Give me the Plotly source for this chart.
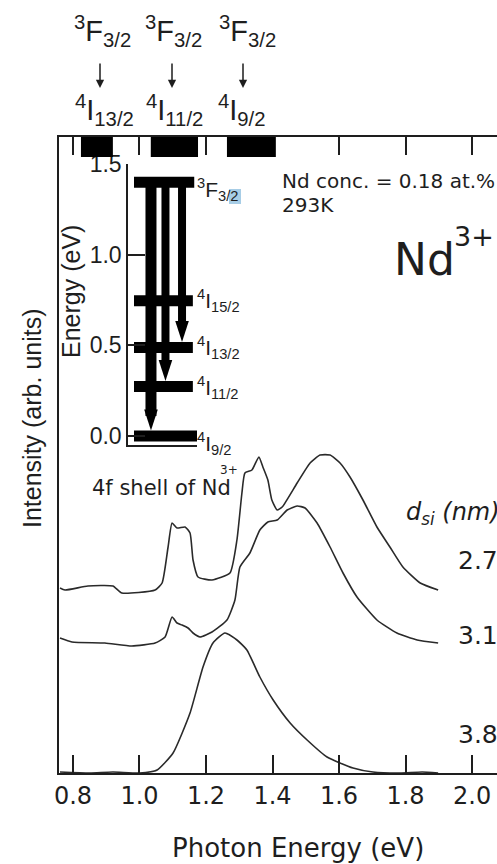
import plotly.graph_objects as go

# ---------------- data ----------------
# PL spectra (photon energy in eV, intensity in arb. units incl. vertical offsets)
energy_27 = [0.761, 0.776, 0.845, 0.920, 0.947, 1.047, 1.068, 1.086, 1.098, 1.113,
             1.137, 1.152, 1.161, 1.176, 1.218, 1.272, 1.293, 1.308, 1.317, 1.338,
             1.359, 1.371, 1.386, 1.398, 1.414, 1.429, 1.474, 1.513, 1.543, 1.573,
             1.603, 1.633, 1.672, 1.714, 1.753, 1.792, 1.844, 1.898]
intens_27 = [1.85, 1.83, 1.87, 1.87, 1.80, 1.83, 1.90, 2.26, 2.50, 2.45,
             2.46, 2.40, 2.13, 1.96, 1.93, 2.00, 2.33, 2.80, 3.00, 3.03,
             3.16, 3.06, 2.93, 2.73, 2.63, 2.66, 2.90, 3.10, 3.18, 3.18,
             3.10, 2.96, 2.73, 2.46, 2.26, 2.06, 1.90, 1.83]

energy_31 = [0.761, 0.797, 0.896, 0.977, 1.047, 1.077, 1.098, 1.113, 1.128, 1.146,
             1.161, 1.182, 1.218, 1.263, 1.287, 1.302, 1.332, 1.362, 1.386, 1.414,
             1.444, 1.474, 1.498, 1.534, 1.573, 1.612, 1.654, 1.714, 1.774, 1.835,
             1.898]
intens_31 = [1.35, 1.31, 1.30, 1.27, 1.30, 1.36, 1.56, 1.50, 1.48, 1.45,
             1.40, 1.36, 1.41, 1.53, 1.73, 2.06, 2.20, 2.43, 2.51, 2.53,
             2.63, 2.67, 2.65, 2.50, 2.26, 2.00, 1.76, 1.53, 1.40, 1.33,
             1.30]

energy_38 = [0.761, 0.850, 0.920, 1.000, 1.053, 1.101, 1.152, 1.191, 1.221, 1.257,
             1.293, 1.323, 1.362, 1.402, 1.453, 1.504, 1.564, 1.642, 1.702, 1.783,
             1.850, 1.898]
intens_38 = [0.01, 0.00, 0.01, 0.00, 0.03, 0.20, 0.60, 1.06, 1.30, 1.40,
             1.33, 1.23, 0.96, 0.73, 0.50, 0.33, 0.16, 0.05, 0.01, 0.00,
             0.01, 0.00]

series_labels = ["2.7", "3.1", "3.8"]

# Nd3+ emission bands marked at the top axis (eV)
band_lo = [0.824, 1.034, 1.263]
band_hi = [0.920, 1.176, 1.410]
band_upper = ["<sup>3</sup>F<sub>3/2</sub>"] * 3
band_lower = ["<sup>4</sup>I<sub>13/2</sub>", "<sup>4</sup>I<sub>11/2</sub>", "<sup>4</sup>I<sub>9/2</sub>"]

# 4f level scheme (inset)
level_names = ["<sup>3</sup>F<sub>3/2</sub>", "<sup>4</sup>I<sub>15/2</sub>",
               "<sup>4</sup>I<sub>13/2</sub>", "<sup>4</sup>I<sub>11/2</sub>",
               "<sup>4</sup>I<sub>9/2</sub>"]
level_energy = [1.40, 0.745, 0.488, 0.273, 0.0]
transition_target = [4, 3, 2]          # indices into levels, from 3F3/2

x_ticks = [0.8, 1.0, 1.2, 1.4, 1.6, 1.8, 2.0]
x_tick_text = ["0.8", "1.0", "1.2", "1.4", "1.6", "1.8", "2.0"]
inset_ticks = [0.0, 0.5, 1.0, 1.5]
inset_tick_text = ["0.0", "0.5", "1.0", "1.5"]

# ---------------- layout helpers ----------------
W, H = 497, 864
L, R, T, B = 59, 0, 137, 91
PW, PH = W - L - R, H - T - B


def px(x):
    return (x - L) / PW


def py(y):
    return (H - B - y) / PH


INK = "#1e1e1e"
DV = "DejaVu Sans"
LS = "Liberation Sans"

fig = go.Figure()

# main spectra
for ex, iy in [(energy_27, intens_27), (energy_31, intens_31), (energy_38, intens_38)]:
    fig.add_trace(go.Scatter(x=ex, y=iy, mode="lines",
                             line=dict(color="#2a2a2a", width=1.6, shape="spline",
                                       smoothing=0.5),
                             showlegend=False, hoverinfo="skip", cliponaxis=False))

# inset: level bars
bar_right = [0.96, 0.94, 0.94, 0.94, 1.0]
for E, xr in zip(level_energy, bar_right):
    fig.add_trace(go.Scatter(x=[0.087, xr], y=[E, E], mode="lines",
                             line=dict(color="black", width=11),
                             xaxis="x2", yaxis="y2", showlegend=False, hoverinfo="skip"))

# inset: transition arrows
arrow_x = [0.333, 0.543, 0.783]
arrow_w = [11, 8, 8]
for xa, w, tgt in zip(arrow_x, arrow_w, transition_target):
    tip = level_energy[tgt] + 0.03
    fig.add_trace(go.Scatter(x=[xa, xa], y=[level_energy[0], tip + 0.08], mode="lines",
                             line=dict(color="black", width=w),
                             xaxis="x2", yaxis="y2", showlegend=False, hoverinfo="skip"))
    fig.add_trace(go.Scatter(x=[xa], y=[tip], mode="markers",
                             marker=dict(symbol="arrow", angle=180, size=22, color="black",
                                         line=dict(width=0)),
                             xaxis="x2", yaxis="y2", showlegend=False, hoverinfo="skip",
                             cliponaxis=False))

shapes = []
for lo, hi in zip(band_lo, band_hi):
    shapes.append(dict(type="rect", xref="x", yref="paper", x0=lo, x1=hi,
                       y0=py(157), y1=1.0, fillcolor="black", line=dict(width=0)))
# light-blue selection highlight seen on the inset 3F3/2 label
shapes.append(dict(type="rect", xref="paper", yref="paper", x0=px(229), x1=px(241),
                   y0=py(204), y1=py(189), fillcolor="#a7cde6", line=dict(width=0),
                   layer="below"))

ann = []


def text(t, x, y, size, font=DV, xanchor="left", yanchor="middle", angle=0):
    ann.append(dict(text=t, xref="paper", yref="paper", x=px(x), y=py(y),
                    xanchor=xanchor, yanchor=yanchor, showarrow=False, textangle=angle,
                    font=dict(family=font, size=size, color=INK)))


# labels above the plot
upper_x = [102, 173, 247]
lower_x = [104, 174, 242]
arrow_px = [100, 172, 243]
for t, x in zip(band_upper, upper_x):
    text(t, x, 31, 29, LS, xanchor="center")
for t, x in zip(band_lower, lower_x):
    text(t, x, 110, 29, LS, xanchor="center")
for x in arrow_px:
    ann.append(dict(text="", xref="paper", yref="paper", x=px(x), y=py(88),
                    ax=0, ay=-26, showarrow=True, arrowhead=2, arrowsize=1.1,
                    arrowwidth=1.5, arrowcolor=INK))

# inset level labels
label_shift = [-7, 0, 0, -1, -8]
for name, E, sh in zip(level_names, level_energy, label_shift):
    ann.append(dict(text=name, xref="paper", yref="y2", x=px(195), y=E, yshift=sh,
                    xanchor="left", yanchor="middle", showarrow=False,
                    font=dict(family=LS, size=21, color=INK)))

text("Energy (eV)", 71, 292, 25, LS, xanchor="center", angle=-90)
text("4f shell of Nd", 90, 488, 21)
text("3+", 229, 470, 12, xanchor="center")

text("Nd conc. = 0.18 at.%", 280, 181, 20)
text("293K", 280, 205, 20)
text("Nd", 392, 259, 44)
text("3+", 452, 237, 27)

text("<i>d<sub>si</sub> (nm)</i>", 404, 513, 24)
for lab, y in zip(series_labels, [560, 635, 734]):
    text(lab, 456, y, 25)

text("Intensity (arb. units)", 32, 418, 25, LS, xanchor="center", angle=-90)
text("Photon Energy (eV)", 298, 848, 26, xanchor="center")

fig.update_layout(
    width=W, height=H,
    margin=dict(l=L, r=R, t=T, b=B, pad=0),
    paper_bgcolor="white", plot_bgcolor="white",
    showlegend=False,
    shapes=shapes,
    annotations=ann,
    xaxis=dict(range=[0.758, 2.075], tickvals=x_ticks, ticktext=x_tick_text,
               ticks="inside", ticklen=18, tickwidth=1.8, tickcolor=INK,
               showline=True, linewidth=2, linecolor=INK, mirror="ticks",
               showgrid=False, zeroline=False,
               tickfont=dict(family=DV, size=24, color=INK)),
    yaxis=dict(range=[0, 6.36], showline=True, linewidth=2, linecolor=INK,
               ticks="", showticklabels=False, showgrid=False, zeroline=False),
    xaxis2=dict(domain=[px(128), px(197)], anchor="y2", range=[0, 1],
                showline=True, linewidth=1.5, linecolor=INK, ticks="",
                showticklabels=False, showgrid=False, zeroline=False),
    yaxis2=dict(domain=[py(445), py(164)], anchor="x2", range=[-0.05, 1.5],
                tickvals=inset_ticks, ticktext=inset_tick_text,
                ticks="inside", ticklen=17, tickwidth=1.5, tickcolor=INK,
                showline=True, linewidth=1.5, linecolor=INK,
                showgrid=False, zeroline=False,
                tickfont=dict(family=LS, size=23, color=INK)),
)

fig.write_html("out.html",
               config={"displayModeBar": False},
               post_script="document.body.style.margin='0px';"
                           "document.body.style.overflow='hidden';")
